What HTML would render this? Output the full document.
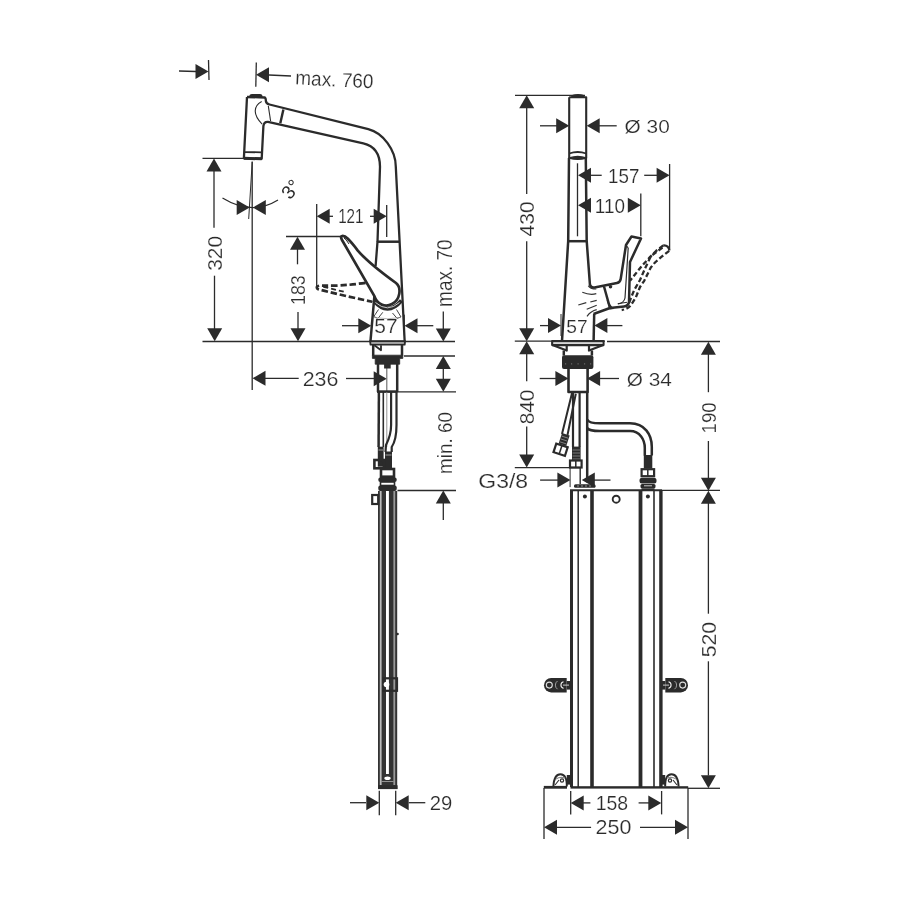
<!DOCTYPE html>
<html><head><meta charset="utf-8"><style>
html,body{margin:0;padding:0;background:#fff;}
svg{display:block;will-change:transform;}
text{font-family:"Liberation Sans",sans-serif;fill:#2b2b2b;}
</style></head><body>
<svg width="900" height="900" viewBox="0 0 900 900">
<rect width="900" height="900" fill="#fff"/>
<line x1="208.5" y1="60" x2="209" y2="80" stroke="#2b2b2b" stroke-width="1.3" />
<line x1="179" y1="71" x2="196" y2="71.5" stroke="#2b2b2b" stroke-width="1.3" />
<polygon points="208.5,71.5 195.5,64.0 195.5,79.0" fill="#2b2b2b"/>
<line x1="256.3" y1="62.5" x2="255.8" y2="86.7" stroke="#2b2b2b" stroke-width="1.3" />
<polygon points="256.0,74.8 269.0,67.3 269.0,82.3" fill="#2b2b2b"/>
<line x1="269" y1="75" x2="291" y2="76" stroke="#2b2b2b" stroke-width="1.3" />
<text x="0" y="0" font-size="20" transform="rotate(3 334.75 79.4) translate(295.35 86.40) scale(0.9494 1.0000)" stroke="#fff" stroke-width="0.2">max. 760</text>
<line x1="202.5" y1="158.3" x2="246" y2="158.3" stroke="#2b2b2b" stroke-width="1.3" />
<line x1="214" y1="170" x2="214" y2="227.7" stroke="#2b2b2b" stroke-width="1.3" />
<polygon points="214.0,158.5 206.5,171.5 221.5,171.5" fill="#2b2b2b"/>
<text x="0" y="0" font-size="20" transform="translate(222.00 270.74) rotate(-90) scale(1.0437 1.0500)" stroke="#fff" stroke-width="0.2">320</text>
<line x1="214.5" y1="275.7" x2="214.5" y2="329" stroke="#2b2b2b" stroke-width="1.3" />
<polygon points="214.7,341.3 207.2,328.3 222.2,328.3" fill="#2b2b2b"/>
<line x1="252.2" y1="161.5" x2="252.2" y2="390" stroke="#2b2b2b" stroke-width="1.3" />
<line x1="252.2" y1="162" x2="248.7" y2="219" stroke="#2b2b2b" stroke-width="1.0" />
<path d="M222.5,198 Q252,216 278,200" stroke="#2b2b2b" stroke-width="1.2" fill="none" stroke-linejoin="round" />
<polygon points="249.7,207.5 236.7,200.0 236.7,215.0" fill="#2b2b2b"/>
<polygon points="252.8,207.5 265.8,200.0 265.8,215.0" fill="#2b2b2b"/>
<text x="0" y="0" font-size="19" text-anchor="middle" transform="translate(290.8 189.3) rotate(-50) translate(0 6.5)">3°</text>
<line x1="286" y1="236.5" x2="341" y2="236.5" stroke="#2b2b2b" stroke-width="1.3" />
<polygon points="297.5,236.7 290.0,249.7 305.0,249.7" fill="#2b2b2b"/>
<line x1="297.5" y1="249" x2="297.5" y2="264.3" stroke="#2b2b2b" stroke-width="1.3" />
<text x="0" y="0" font-size="20" transform="translate(305.00 304.88) rotate(-90) scale(0.8844 1.0214)" stroke="#fff" stroke-width="0.2">183</text>
<line x1="298" y1="312" x2="298" y2="329" stroke="#2b2b2b" stroke-width="1.3" />
<polygon points="298.0,341.3 290.5,328.3 305.5,328.3" fill="#2b2b2b"/>
<line x1="316.7" y1="204" x2="316.7" y2="288" stroke="#2b2b2b" stroke-width="1.3" />
<polygon points="316.7,216.3 329.7,208.8 329.7,223.8" fill="#2b2b2b"/>
<line x1="329" y1="216.3" x2="333" y2="216.3" stroke="#2b2b2b" stroke-width="1.3" />
<text x="0" y="0" font-size="20" transform="translate(338.14 223.10) scale(0.7625 1.0143)" stroke="#fff" stroke-width="0.2">121</text>
<line x1="370" y1="216.3" x2="374" y2="216.3" stroke="#2b2b2b" stroke-width="1.3" />
<polygon points="386.7,216.3 373.7,208.8 373.7,223.8" fill="#2b2b2b"/>
<line x1="386.7" y1="205" x2="386.7" y2="237" stroke="#2b2b2b" stroke-width="1.3" />
<line x1="342" y1="325.7" x2="359" y2="325.7" stroke="#2b2b2b" stroke-width="1.3" />
<polygon points="371.3,325.7 358.3,318.2 358.3,333.2" fill="#2b2b2b"/>
<polygon points="404.5,325.7 417.5,318.2 417.5,333.2" fill="#2b2b2b"/>
<line x1="417" y1="325.7" x2="433.3" y2="325.7" stroke="#2b2b2b" stroke-width="1.3" />
<line x1="404.3" y1="314.7" x2="404.3" y2="335.3" stroke="#2b2b2b" stroke-width="1.0" />
<text x="0" y="0" font-size="20" transform="translate(374.25 332.50) scale(1.0476 0.9643)" stroke="#fff" stroke-width="0.2">57</text>
<text x="0" y="0" font-size="20" transform="translate(451.50 306.95) rotate(-90) scale(0.9500 1.0714)" stroke="#fff" stroke-width="0.2">max. 70</text>
<line x1="443.3" y1="311.5" x2="443.3" y2="329" stroke="#2b2b2b" stroke-width="1.3" />
<polygon points="443.3,341.6 435.8,328.6 450.8,328.6" fill="#2b2b2b"/>
<line x1="202.5" y1="341.5" x2="455" y2="341.5" stroke="#2b2b2b" stroke-width="1.3" />
<line x1="404" y1="356" x2="455" y2="356" stroke="#2b2b2b" stroke-width="1.3" />
<polygon points="443.3,356.0 435.8,369.0 450.8,369.0" fill="#2b2b2b"/>
<line x1="443.3" y1="368" x2="443.3" y2="380" stroke="#2b2b2b" stroke-width="1.3" />
<polygon points="443.3,391.8 435.8,378.8 450.8,378.8" fill="#2b2b2b"/>
<line x1="397.5" y1="391.8" x2="456" y2="391.8" stroke="#2b2b2b" stroke-width="1.3" />
<text x="0" y="0" font-size="20" transform="translate(451.50 473.95) rotate(-90) scale(0.9453 1.0000)" stroke="#fff" stroke-width="0.2">min. 60</text>
<line x1="397.5" y1="490.5" x2="456" y2="490.5" stroke="#2b2b2b" stroke-width="1.3" />
<polygon points="443.3,490.5 435.8,503.5 450.8,503.5" fill="#2b2b2b"/>
<line x1="443.3" y1="503" x2="443.3" y2="520" stroke="#2b2b2b" stroke-width="1.3" />
<line x1="252.5" y1="390" x2="252.5" y2="390" stroke="#2b2b2b" stroke-width="1.3" />
<polygon points="252.5,378.3 265.5,370.8 265.5,385.8" fill="#2b2b2b"/>
<line x1="265" y1="378.3" x2="298.7" y2="378.3" stroke="#2b2b2b" stroke-width="1.3" />
<text x="0" y="0" font-size="20" transform="translate(302.63 385.80) scale(1.0719 1.0071)" stroke="#fff" stroke-width="0.2">236</text>
<line x1="346" y1="378.5" x2="374" y2="378.5" stroke="#2b2b2b" stroke-width="1.3" />
<polygon points="386.7,378.7 373.7,371.2 373.7,386.2" fill="#2b2b2b"/>
<line x1="350" y1="802.7" x2="366" y2="802.7" stroke="#2b2b2b" stroke-width="1.3" />
<polygon points="379.3,802.7 366.3,795.2 366.3,810.2" fill="#2b2b2b"/>
<line x1="379.3" y1="790.7" x2="379.3" y2="815.3" stroke="#2b2b2b" stroke-width="1.3" />
<line x1="395.7" y1="790.7" x2="395.7" y2="815.3" stroke="#2b2b2b" stroke-width="1.3" />
<polygon points="395.7,802.7 408.7,795.2 408.7,810.2" fill="#2b2b2b"/>
<line x1="408.7" y1="802.7" x2="425.3" y2="802.7" stroke="#2b2b2b" stroke-width="1.3" />
<text x="0" y="0" font-size="20" transform="translate(429.69 810.00) scale(1.0143 1.0000)" stroke="#fff" stroke-width="0.2">29</text>
<path d="M249.2,97 Q249.2,94 252,94 L260,94 Q262.6,94 262.6,97 Z" fill="#2b2b2b"/>
<path d="M247,97 L264.8,97.5 Q266,98.5 265.8,100.5 Q265.8,103.6 269.5,104.5 L368.3,129.2 C383,133 395.8,150 395.8,166.7 L404.7,342" stroke="#2b2b2b" stroke-width="2.3" fill="none" stroke-linejoin="round" />
<path d="M247,97 L243.9,158.3 L261.7,158.8 L263.4,126 Q264,121.5 268,121.8 L363.3,143.3 C375,146 380,155 380,166.7 L377.5,241.7 L375.6,266" stroke="#2b2b2b" stroke-width="2.3" fill="none" stroke-linejoin="round" />
<line x1="244.5" y1="152.1" x2="262" y2="152.3" stroke="#2b2b2b" stroke-width="1.8" />
<line x1="243.9" y1="158.3" x2="261.7" y2="158.8" stroke="#2b2b2b" stroke-width="3.0" />
<path d="M261.7,101.4 C253,106 253,115 262.1,124.1" stroke="#2b2b2b" stroke-width="1.1" fill="none" stroke-linejoin="round" />
<line x1="268.3" y1="105.9" x2="270.6" y2="121" stroke="#2b2b2b" stroke-width="1.1" />
<line x1="283.4" y1="109.4" x2="280.3" y2="123.2" stroke="#2b2b2b" stroke-width="2.4" />
<line x1="377.5" y1="241.7" x2="399" y2="241.7" stroke="#2b2b2b" stroke-width="2.5" />
<path d="M374.4,296 L370.4,342" stroke="#2b2b2b" stroke-width="2.5" fill="none" stroke-linejoin="round" />
<path d="M378.5,309.5 L373.8,316.5 L377.5,318.3" stroke="#444" stroke-width="1.0" fill="none" stroke-linejoin="round" />
<path d="M382.8,312.3 L378.3,318" stroke="#444" stroke-width="1.0" fill="none" stroke-linejoin="round" />
<path d="M396.5,309.5 L401,317 L397,318.3" stroke="#444" stroke-width="1.0" fill="none" stroke-linejoin="round" />
<path d="M392.5,313 L397,318.3" stroke="#444" stroke-width="1.0" fill="none" stroke-linejoin="round" />
<path d="M374,317.5 Q388,320 401,317.5" stroke="#999" stroke-width="0.7" fill="none" stroke-linejoin="round" />
<path d="M342.2,236 C345.5,235.5 349,239 357.8,250.6 C365,259 378,270 396,283 C402,288 400,300 392,304 C385,308 377,304 374.4,296.1 L342,240 Q340,236.5 342.2,236 Z" stroke="#2b2b2b" stroke-width="2.7" fill="#fff" stroke-linejoin="round" />
<path d="M344,238 Q346,239 349,244" stroke="#2b2b2b" stroke-width="1.0" fill="none" stroke-linejoin="round" />
<path d="M373.8,300.5 Q387.5,317 401.5,300.5" stroke="#2b2b2b" stroke-width="4.2" fill="none" stroke-linejoin="round" />
<path d="M375.5,302.5 Q387.5,313.2 399.5,302.5" stroke="#ddd" stroke-width="0.9" fill="none" stroke-linejoin="round" />
<path d="M365.6,282.8 Q340,286.5 321,285.5 Q315,286 317.5,289 Q340,295 372.2,301.7" stroke="#2b2b2b" stroke-width="2.7" fill="none" stroke-linejoin="round" stroke-dasharray="6.5,2.8"/>
<path d="M323.3,286.8 L345,292" stroke="#2b2b2b" stroke-width="1.8" fill="none" stroke-linejoin="round" stroke-dasharray="5,3"/>
<path d="M370.2,341.3 L405,341.3 L404.6,344.6 L370.6,344.6 Z" stroke="#2b2b2b" stroke-width="2.0" fill="none" stroke-linejoin="round" />
<line x1="371" y1="343" x2="404" y2="343" stroke="#aaa" stroke-width="0.8" />
<path d="M373.2,344.7 L373.2,355.7 M402,344.7 L402,355.7" stroke="#2b2b2b" stroke-width="2.5" fill="none" stroke-linejoin="round" />
<path d="M374.4,345.2 L381,350.2 L381,345.2" stroke="#2b2b2b" stroke-width="1.8" fill="none" stroke-linejoin="round" />
<path d="M372.4,355.2 L402.8,355.2 L402.8,358.4 L399.7,358.4 L399.7,364.2 L375.2,364.2 L375.2,358.4 L372.4,358.4 Z" stroke="#2b2b2b" stroke-width="0.8" fill="#2b2b2b" stroke-linejoin="round" />
<line x1="378" y1="364" x2="378" y2="392" stroke="#2b2b2b" stroke-width="2.5" />
<line x1="386.8" y1="364" x2="386.8" y2="392" stroke="#666" stroke-width="1.1" />
<line x1="397.2" y1="364" x2="397.2" y2="392" stroke="#2b2b2b" stroke-width="2.5" />
<rect x="384.1" y="364" width="6.6" height="4.5" fill="#2b2b2b" stroke="none" stroke-width="0"/>
<rect x="377" y="390.3" width="20.5" height="2.6" fill="#2b2b2b" stroke="none" stroke-width="0"/>
<line x1="378.9" y1="392" x2="378.6" y2="447" stroke="#2b2b2b" stroke-width="2.5" />
<line x1="383.3" y1="392" x2="383.3" y2="447" stroke="#2b2b2b" stroke-width="1.6" />
<line x1="386.8" y1="392" x2="386.8" y2="447" stroke="#888" stroke-width="0.9" />
<path d="M391.1,392 L391.1,425 Q391.1,435 386,445 L385.5,452" stroke="#2b2b2b" stroke-width="2.2" fill="none" stroke-linejoin="round" />
<path d="M396.5,392 L396.5,425 Q396.5,440 391.7,447 L391.7,452" stroke="#2b2b2b" stroke-width="2.2" fill="none" stroke-linejoin="round" />
<rect x="377.8" y="446.7" width="5.8" height="20" fill="#2b2b2b" stroke="none" stroke-width="0"/>
<line x1="378.5" y1="450" x2="383" y2="450" stroke="#bbb" stroke-width="0.8" />
<rect x="385" y="451.5" width="7" height="17.5" fill="#2b2b2b" stroke="none" stroke-width="0"/>
<line x1="385.5" y1="455" x2="391.5" y2="455" stroke="#bbb" stroke-width="0.8" />
<rect x="374.4" y="460" width="9.5" height="8.3" fill="none" stroke="#2b2b2b" stroke-width="2.6"/>
<rect x="381" y="469" width="13" height="7.7" fill="none" stroke="#2b2b2b" stroke-width="2.6"/>
<rect x="378.3" y="477.5" width="18.4" height="4.5" rx="2" fill="#2b2b2b"/>
<rect x="378.3" y="485.5" width="18.4" height="5.5" rx="2" fill="#2b2b2b"/>
<rect x="380.5" y="482" width="14" height="3.5" fill="none" stroke="#2b2b2b" stroke-width="1.6"/>
<rect x="378" y="491" width="19.2" height="298" fill="#333" stroke="none" stroke-width="0"/>
<rect x="386" y="491" width="2.9" height="283" fill="#fff" stroke="none" stroke-width="0"/>
<rect x="379.8" y="491" width="1.8" height="294" fill="#bbb" stroke="none" stroke-width="0"/>
<rect x="393.4" y="491" width="1.8" height="294" fill="#999" stroke="none" stroke-width="0"/>
<rect x="378" y="785.3" width="19.6" height="3.8" fill="#2b2b2b" stroke="none" stroke-width="0"/>
<ellipse cx="387.5" cy="778.3" rx="3.2" ry="1.8" fill="#fff"/>
<line x1="381.5" y1="781.5" x2="393.5" y2="781.5" stroke="#aaa" stroke-width="0.8" />
<rect x="372.2" y="495" width="6" height="9" fill="none" stroke="#2b2b2b" stroke-width="2.2"/>
<rect x="383.5" y="678.3" width="13.5" height="12.5" fill="none" stroke="#2b2b2b" stroke-width="2.2"/>
<circle cx="386.5" cy="684.5" r="2.8" fill="#fff"/>
<circle cx="397.5" cy="634" r="1.3" fill="#2b2b2b"/>
<line x1="515" y1="95.3" x2="585" y2="95.3" stroke="#2b2b2b" stroke-width="1.3" />
<line x1="526.7" y1="107" x2="526.7" y2="194" stroke="#2b2b2b" stroke-width="1.3" />
<polygon points="526.7,95.3 519.2,108.3 534.2,108.3" fill="#2b2b2b"/>
<text x="0" y="0" font-size="20" transform="translate(534.20 236.40) rotate(-90) scale(1.0485 1.0143)" stroke="#fff" stroke-width="0.2">430</text>
<line x1="526.7" y1="241.3" x2="526.7" y2="329" stroke="#2b2b2b" stroke-width="1.3" />
<polygon points="526.7,341.2 519.2,328.2 534.2,328.2" fill="#2b2b2b"/>
<line x1="540" y1="125.8" x2="557" y2="125.8" stroke="#2b2b2b" stroke-width="1.3" />
<polygon points="569.2,125.8 556.2,118.3 556.2,133.3" fill="#2b2b2b"/>
<polygon points="586.7,125.8 599.7,118.3 599.7,133.3" fill="#2b2b2b"/>
<line x1="599" y1="125.8" x2="616.7" y2="125.8" stroke="#2b2b2b" stroke-width="1.3" />
<text x="0" y="0" font-size="20" transform="translate(624.56 132.90) scale(1.0429 0.9000)" stroke="#fff" stroke-width="0.2">Ø 30</text>
<line x1="577.5" y1="163.3" x2="577.5" y2="236.3" stroke="#2b2b2b" stroke-width="1.3" />
<polygon points="578.0,175.3 591.0,167.8 591.0,182.8" fill="#2b2b2b"/>
<line x1="590" y1="175.3" x2="601.7" y2="175.3" stroke="#2b2b2b" stroke-width="1.3" />
<text x="0" y="0" font-size="20" transform="translate(608.06 182.50) scale(0.9375 1.0000)" stroke="#fff" stroke-width="0.2">157</text>
<line x1="644.2" y1="175.3" x2="657" y2="175.3" stroke="#2b2b2b" stroke-width="1.3" />
<polygon points="669.6,175.3 656.6,167.8 656.6,182.8" fill="#2b2b2b"/>
<line x1="669.6" y1="164" x2="669.6" y2="249.5" stroke="#2b2b2b" stroke-width="1.3" />
<polygon points="578.0,205.3 591.0,197.8 591.0,212.8" fill="#2b2b2b"/>
<text x="0" y="0" font-size="20" transform="translate(594.85 212.70) scale(0.9467 1.0500)" stroke="#fff" stroke-width="0.2">110</text>
<polygon points="640.8,205.3 627.8,197.8 627.8,212.8" fill="#2b2b2b"/>
<line x1="640.8" y1="193.5" x2="640.8" y2="236.3" stroke="#2b2b2b" stroke-width="1.3" />
<line x1="540" y1="325.6" x2="549.5" y2="325.6" stroke="#2b2b2b" stroke-width="1.3" />
<polygon points="561.0,325.6 548.0,318.1 548.0,333.1" fill="#2b2b2b"/>
<line x1="561" y1="314" x2="561" y2="336" stroke="#2b2b2b" stroke-width="1.0" />
<polygon points="594.4,325.6 607.4,318.1 607.4,333.1" fill="#2b2b2b"/>
<line x1="606.5" y1="325.6" x2="622.4" y2="325.6" stroke="#2b2b2b" stroke-width="1.3" />
<text x="0" y="0" font-size="20" transform="translate(566.24 332.60) scale(0.9619 0.9429)" stroke="#fff" stroke-width="0.2">57</text>
<line x1="514.8" y1="341.2" x2="605" y2="341.2" stroke="#2b2b2b" stroke-width="1.3" />
<line x1="607" y1="341.5" x2="720" y2="341.5" stroke="#2b2b2b" stroke-width="1.3" />
<polygon points="526.7,341.2 519.2,354.2 534.2,354.2" fill="#2b2b2b"/>
<line x1="526.7" y1="354" x2="526.7" y2="381.3" stroke="#2b2b2b" stroke-width="1.3" />
<text x="0" y="0" font-size="20" transform="translate(534.20 424.34) rotate(-90) scale(1.0438 1.0000)" stroke="#fff" stroke-width="0.2">840</text>
<line x1="526.7" y1="426.4" x2="526.7" y2="456" stroke="#2b2b2b" stroke-width="1.3" />
<polygon points="526.7,467.6 519.2,454.6 534.2,454.6" fill="#2b2b2b"/>
<line x1="514.8" y1="467.6" x2="580" y2="467.6" stroke="#2b2b2b" stroke-width="1.3" />
<line x1="539.7" y1="378.5" x2="556" y2="378.5" stroke="#2b2b2b" stroke-width="1.3" />
<polygon points="568.4,378.5 555.4,371.0 555.4,386.0" fill="#2b2b2b"/>
<polygon points="587.1,378.5 600.1,371.0 600.1,386.0" fill="#2b2b2b"/>
<line x1="600" y1="378.5" x2="619" y2="378.5" stroke="#2b2b2b" stroke-width="1.3" />
<text x="0" y="0" font-size="20" transform="translate(626.76 385.79) scale(1.0429 0.9062)" stroke="#fff" stroke-width="0.2">Ø 34</text>
<text x="0" y="0" font-size="20" transform="translate(478.25 488.00) scale(1.1500 1.0333)" stroke="#fff" stroke-width="0.2">G3/8</text>
<line x1="540.1" y1="480.1" x2="558" y2="480.1" stroke="#2b2b2b" stroke-width="1.3" />
<polygon points="570.4,480.1 557.4,472.6 557.4,487.6" fill="#2b2b2b"/>
<line x1="570.1" y1="467.7" x2="570.1" y2="487.1" stroke="#2b2b2b" stroke-width="1.0" />
<polygon points="581.8,480.1 594.8,472.6 594.8,487.6" fill="#2b2b2b"/>
<line x1="594" y1="480.1" x2="610.5" y2="480.1" stroke="#2b2b2b" stroke-width="1.3" />
<line x1="570" y1="490.2" x2="662" y2="490.2" stroke="#2b2b2b" stroke-width="2.0" />
<line x1="662" y1="490.4" x2="720" y2="490.4" stroke="#2b2b2b" stroke-width="1.3" />
<polygon points="708.4,341.8 700.9,354.8 715.9,354.8" fill="#2b2b2b"/>
<line x1="708.4" y1="354" x2="708.4" y2="392.2" stroke="#2b2b2b" stroke-width="1.3" />
<text x="0" y="0" font-size="20" transform="translate(715.80 433.43) rotate(-90) scale(0.9281 1.0000)" stroke="#fff" stroke-width="0.2">190</text>
<line x1="708.4" y1="441" x2="708.4" y2="478.5" stroke="#2b2b2b" stroke-width="1.3" />
<polygon points="708.4,490.7 700.9,477.7 715.9,477.7" fill="#2b2b2b"/>
<polygon points="708.4,490.7 700.9,503.7 715.9,503.7" fill="#2b2b2b"/>
<line x1="708.4" y1="503" x2="708.4" y2="613.7" stroke="#2b2b2b" stroke-width="1.3" />
<text x="0" y="0" font-size="20" transform="translate(716.00 657.36) rotate(-90) scale(1.0625 1.0214)" stroke="#fff" stroke-width="0.2">520</text>
<line x1="708.4" y1="661.3" x2="708.4" y2="775.5" stroke="#2b2b2b" stroke-width="1.3" />
<polygon points="708.4,788.2 700.9,775.2 715.9,775.2" fill="#2b2b2b"/>
<line x1="688" y1="788.3" x2="720" y2="788.3" stroke="#2b2b2b" stroke-width="1.3" />
<line x1="570.7" y1="791" x2="570.7" y2="814.4" stroke="#2b2b2b" stroke-width="1.3" />
<line x1="661.6" y1="791" x2="661.6" y2="814.4" stroke="#2b2b2b" stroke-width="1.3" />
<polygon points="570.7,802.9 583.7,795.4 583.7,810.4" fill="#2b2b2b"/>
<line x1="583" y1="802.9" x2="590.4" y2="802.9" stroke="#2b2b2b" stroke-width="1.3" />
<text x="0" y="0" font-size="20" transform="translate(595.73 810.00) scale(0.9719 1.0286)" stroke="#fff" stroke-width="0.2">158</text>
<line x1="638.6" y1="802.9" x2="649" y2="802.9" stroke="#2b2b2b" stroke-width="1.3" />
<polygon points="661.3,802.9 648.3,795.4 648.3,810.4" fill="#2b2b2b"/>
<line x1="544" y1="788" x2="544" y2="838.9" stroke="#2b2b2b" stroke-width="1.3" />
<line x1="688" y1="788" x2="688" y2="838.9" stroke="#2b2b2b" stroke-width="1.3" />
<polygon points="544.0,827.3 557.0,819.8 557.0,834.8" fill="#2b2b2b"/>
<line x1="557" y1="827.3" x2="591.1" y2="827.3" stroke="#2b2b2b" stroke-width="1.3" />
<text x="0" y="0" font-size="20" transform="translate(595.62 834.40) scale(1.0750 1.0286)" stroke="#fff" stroke-width="0.2">250</text>
<line x1="640" y1="827.3" x2="675" y2="827.3" stroke="#2b2b2b" stroke-width="1.3" />
<polygon points="688.0,827.3 675.0,819.8 675.0,834.8" fill="#2b2b2b"/>
<path d="M571,97.3 Q571,94 578,94 Q584.8,94 584.8,97.3 Z" fill="#2b2b2b"/>
<path d="M569.2,97.3 L586.2,97.3 L586.2,158.3 M569.2,97.3 L569.2,158.3" stroke="#2b2b2b" stroke-width="2.1" fill="none" stroke-linejoin="round" />
<path d="M569.2,153.5 Q577.7,150.5 586.2,153.5" stroke="#2b2b2b" stroke-width="1.8" fill="none" stroke-linejoin="round" />
<path d="M569.2,158 Q577.7,155 586.2,158 Q577.7,160.5 569.2,158 Z" stroke="#2b2b2b" stroke-width="1.6" fill="#2b2b2b" stroke-linejoin="round" />
<path d="M569,158 L568.2,241 L562,341" stroke="#2b2b2b" stroke-width="2.5" fill="none" stroke-linejoin="round" />
<path d="M585.8,158 L586.7,241 L590,285.5" stroke="#2b2b2b" stroke-width="2.5" fill="none" stroke-linejoin="round" />
<path d="M594.2,314 L593.6,341" stroke="#2b2b2b" stroke-width="2.5" fill="none" stroke-linejoin="round" />
<line x1="568" y1="241.2" x2="587" y2="241.2" stroke="#2b2b2b" stroke-width="2.5" />
<path d="M590,285 Q591,288 594.5,287.5 L617,283 Q620.2,282.3 620.7,279 L626,245 L631.5,236.5 L641,238.5 L630,262 L629,302 Q628.5,306 624,306.5 L610,308 L593.5,314" stroke="#2b2b2b" stroke-width="2.5" fill="none" stroke-linejoin="round" />
<path d="M604,286.5 L610,308" stroke="#2b2b2b" stroke-width="2.5" fill="none" stroke-linejoin="round" />
<path d="M628.2,248 L625,298 Q624,303 618,304" stroke="#2b2b2b" stroke-width="1.2" fill="none" stroke-linejoin="round" />
<path d="M626,245 L628.2,248" stroke="#2b2b2b" stroke-width="1.2" fill="none" stroke-linejoin="round" />
<circle cx="610.5" cy="286.8" r="1.8" fill="#2b2b2b"/>
<path d="M582.3,292.3 Q590,295.5 596.3,293.7" stroke="#333" stroke-width="1.2" fill="none" stroke-linejoin="round" />
<path d="M578.3,305 L586.3,302.7" stroke="#333" stroke-width="1.2" fill="none" stroke-linejoin="round" />
<path d="M590.3,302 L596.7,300.3" stroke="#333" stroke-width="1.2" fill="none" stroke-linejoin="round" />
<path d="M586.7,309.3 L596.7,305.3" stroke="#333" stroke-width="1.2" fill="none" stroke-linejoin="round" />
<path d="M587,316.3 Q591,311 596.7,309.7" stroke="#333" stroke-width="1.2" fill="none" stroke-linejoin="round" />
<path d="M588.3,285.7 Q590,289 596.3,289" stroke="#333" stroke-width="1.2" fill="none" stroke-linejoin="round" />
<polygon points="606.5,300 609.7,309.5 614,309" fill="#2b2b2b"/>
<path d="M617.7,303.7 L627,302.3" stroke="#2b2b2b" stroke-width="1.0" fill="none" stroke-linejoin="round" />
<path d="M663.3,245.4 L656,251 Q648,259 641,267 L630,280.8" stroke="#2b2b2b" stroke-width="2.3" fill="none" stroke-linejoin="round" stroke-dasharray="5,2.6"/>
<path d="M662.5,247.5 L651,256 L645.5,267.5 L640,280 L634.2,290 L630.8,298.3 L628.3,305" stroke="#2b2b2b" stroke-width="2.3" fill="none" stroke-linejoin="round" stroke-dasharray="5,2.6"/>
<path d="M669.2,250.8 L661.7,256.7 L655,262.5 L650.8,267.5 L644.2,280.8 L640,287 L635.8,297.5 L631,305 Q628,309 621.7,310" stroke="#2b2b2b" stroke-width="2.3" fill="none" stroke-linejoin="round" stroke-dasharray="5,2.6"/>
<path d="M663.3,245.4 Q668.5,245 669.5,250.5" stroke="#2b2b2b" stroke-width="2.2" fill="none" stroke-linejoin="round" />
<path d="M552.2,341.1 L603.5,341.1 L603.5,345.1 L552.2,345.1 Z" stroke="#2b2b2b" stroke-width="2.2" fill="none" stroke-linejoin="round" />
<line x1="553" y1="343.1" x2="603" y2="343.1" stroke="#aaa" stroke-width="0.8" />
<path d="M552.5,345 L566.7,350.5 L566.7,345 M603.2,345 L589,350.5 L589,345" stroke="#2b2b2b" stroke-width="2.2" fill="none" stroke-linejoin="round" />
<path d="M563.8,350.5 L563.8,355.5 M591.9,350.5 L591.9,355.5" stroke="#2b2b2b" stroke-width="2.5" fill="none" stroke-linejoin="round" />
<rect x="562" y="355.2" width="31.4" height="13.7" rx="2" fill="#2b2b2b"/>
<rect x="565" y="363.4" width="1.2" height="1.0" fill="#777"/>
<rect x="571" y="363.4" width="1.2" height="1.0" fill="#777"/>
<rect x="577.5" y="363.4" width="1.2" height="1.0" fill="#777"/>
<rect x="584" y="363.4" width="1.2" height="1.0" fill="#777"/>
<rect x="590" y="363.4" width="1.2" height="1.0" fill="#777"/>
<path d="M568.5,369 L568.5,392 L587.6,392 L587.6,369" stroke="#2b2b2b" stroke-width="2.6" fill="none" stroke-linejoin="round" />
<rect x="568.5" y="365" width="19.1" height="4" fill="#2b2b2b" stroke="none" stroke-width="0"/>
<path d="M572.1,392.8 L562,434 M575.8,393.7 L567.5,435" stroke="#2b2b2b" stroke-width="2.0" fill="none" stroke-linejoin="round" />
<g transform="rotate(18 564 440)"><rect x="560" y="434" width="8" height="11" fill="#2b2b2b"/><line x1="560.5" y1="437" x2="567.5" y2="437" stroke="#999" stroke-width="0.7"/><line x1="560.5" y1="440" x2="567.5" y2="440" stroke="#999" stroke-width="0.7"/><line x1="560.5" y1="443" x2="567.5" y2="443" stroke="#999" stroke-width="0.7"/></g>
<g transform="rotate(18 560.6 449.7)"><rect x="554.6" y="445.2" width="12" height="9" fill="none" stroke="#2b2b2b" stroke-width="2.2"/><line x1="560.6" y1="445.5" x2="560.6" y2="454" stroke="#2b2b2b" stroke-width="1.5"/></g>
<line x1="573" y1="392" x2="573" y2="447" stroke="#2b2b2b" stroke-width="2.2" />
<line x1="579.6" y1="392" x2="579.6" y2="447" stroke="#2b2b2b" stroke-width="2.2" />
<rect x="572" y="446.6" width="8.6" height="14" fill="#2b2b2b" stroke="none" stroke-width="0"/>
<line x1="572.5" y1="450" x2="580" y2="450" stroke="#999" stroke-width="0.7" />
<line x1="572.5" y1="453" x2="580" y2="453" stroke="#999" stroke-width="0.7" />
<line x1="572.5" y1="456" x2="580" y2="456" stroke="#999" stroke-width="0.7" />
<line x1="572.5" y1="459" x2="580" y2="459" stroke="#999" stroke-width="0.7" />
<rect x="570" y="460.5" width="11.6" height="7" fill="none" stroke="#2b2b2b" stroke-width="2.2"/>
<line x1="575.8" y1="461" x2="575.8" y2="467" stroke="#2b2b2b" stroke-width="1.5" />
<line x1="580.2" y1="467.5" x2="580.2" y2="484" stroke="#2b2b2b" stroke-width="1.4" />
<line x1="587.2" y1="392" x2="587.2" y2="482.4" stroke="#2b2b2b" stroke-width="2.5" />
<path d="M587.2,419.4 Q589,423.3 600,423.3 L630,423.3 C645,423.3 651.8,435 651.8,446.7 L651.8,455.5" stroke="#2b2b2b" stroke-width="2.5" fill="none" stroke-linejoin="round" />
<path d="M587.2,428 Q589,431.1 600,431.1 L630,431.1 C640,431.1 644.8,440 644.8,448 L644.8,455.5" stroke="#2b2b2b" stroke-width="2.5" fill="none" stroke-linejoin="round" />
<rect x="643.8" y="455" width="8.5" height="13.5" fill="#2b2b2b" stroke="none" stroke-width="0"/>
<rect x="641.6" y="469.2" width="12.5" height="7" fill="none" stroke="#2b2b2b" stroke-width="2.2"/>
<line x1="647.8" y1="469.5" x2="647.8" y2="476" stroke="#2b2b2b" stroke-width="1.5" />
<rect x="639.5" y="477.8" width="17" height="5.6" rx="2.5" fill="#2b2b2b"/>
<rect x="640.5" y="484" width="15" height="4.3" rx="1.5" fill="#2b2b2b"/>
<line x1="644" y1="485.8" x2="652" y2="485.8" stroke="#ccc" stroke-width="1.0" />
<rect x="641.5" y="488.3" width="13" height="1.8" fill="#2b2b2b" stroke="none" stroke-width="0"/>
<rect x="574" y="484.2" width="21.6" height="3.6" rx="1.6" fill="#2b2b2b"/>
<line x1="577" y1="486" x2="593" y2="486" stroke="#aaa" stroke-width="0.8" stroke-dasharray="2,2"/>
<line x1="571.5" y1="490" x2="571.5" y2="787" stroke="#2b2b2b" stroke-width="3.0" />
<line x1="578.2" y1="490" x2="578.2" y2="787" stroke="#2b2b2b" stroke-width="1.5" />
<line x1="592" y1="490" x2="592" y2="787" stroke="#2b2b2b" stroke-width="3.6" />
<line x1="640.5" y1="490" x2="640.5" y2="787" stroke="#2b2b2b" stroke-width="3.8" />
<line x1="654" y1="490" x2="654" y2="787" stroke="#2b2b2b" stroke-width="1.6" />
<line x1="660.9" y1="490" x2="660.9" y2="787" stroke="#2b2b2b" stroke-width="3.4" />
<circle cx="584.9" cy="496.4" r="2" fill="#2b2b2b"/>
<circle cx="616.2" cy="499.2" r="3.5" fill="none" stroke="#2b2b2b" stroke-width="1.9"/>
<circle cx="647.9" cy="496.4" r="2" fill="#2b2b2b"/>
<path d="M566.7,678 L551.2,678 A7.2,7.2 0 0 0 551.2,692.4 L566.7,692.4 Z" fill="#2b2b2b"/>
<rect x="566.7" y="681" width="3.8" height="8.6" fill="#2b2b2b" stroke="none" stroke-width="0"/>
<circle cx="549.3" cy="685.1" r="3" fill="none" stroke="#ddd" stroke-width="1.1"/>
<path d="M563.5,681.8 A3.4,3.4 0 0 0 563.5,688.4" fill="none" stroke="#eee" stroke-width="1.1"/>
<path d="M557.5,681 A5,5 0 0 0 557.5,689.2" fill="none" stroke="#bbb" stroke-width="0.8"/>
<line x1="563.0" y1="685.1" x2="569.0" y2="685.1" stroke="#ccc" stroke-width="1.0" />
<path d="M553.4,786.5 Q554.0,774.3 560.5,774.3 Q567.0,774.3 566.8,786.5" fill="none" stroke="#2b2b2b" stroke-width="2"/>
<path d="M556.0,779 Q560.0,776.5 565.0,778" fill="none" stroke="#888" stroke-width="1.2"/>
<circle cx="562.0" cy="780.5" r="1.6" fill="none" stroke="#2b2b2b" stroke-width="1.2"/>
<line x1="555.0" y1="785" x2="559.0" y2="780" stroke="#2b2b2b" stroke-width="1.1" />
<rect x="566.8" y="775" width="3.4" height="9.6" fill="#2b2b2b" stroke="none" stroke-width="0"/>
<path d="M665.3,678 L680.8,678 A7.2,7.2 0 0 1 680.8,692.4 L665.3,692.4 Z" fill="#2b2b2b"/>
<rect x="661.5" y="681" width="3.8" height="8.6" fill="#2b2b2b" stroke="none" stroke-width="0"/>
<circle cx="682.7" cy="685.1" r="3" fill="none" stroke="#ddd" stroke-width="1.1"/>
<path d="M668.5,681.8 A3.4,3.4 0 0 1 668.5,688.4" fill="none" stroke="#eee" stroke-width="1.1"/>
<path d="M674.5,681 A5,5 0 0 1 674.5,689.2" fill="none" stroke="#bbb" stroke-width="0.8"/>
<line x1="669.0" y1="685.1" x2="663.0" y2="685.1" stroke="#ccc" stroke-width="1.0" />
<path d="M678.6,786.5 Q678.0,774.3 671.5,774.3 Q665.0,774.3 665.2,786.5" fill="none" stroke="#2b2b2b" stroke-width="2"/>
<path d="M676.0,779 Q672.0,776.5 667.0,778" fill="none" stroke="#888" stroke-width="1.2"/>
<circle cx="670.0" cy="780.5" r="1.6" fill="none" stroke="#2b2b2b" stroke-width="1.2"/>
<line x1="677.0" y1="785" x2="673.0" y2="780" stroke="#2b2b2b" stroke-width="1.1" />
<rect x="661.8" y="775" width="3.4" height="9.6" fill="#2b2b2b" stroke="none" stroke-width="0"/>
<rect x="543.8" y="785.9" width="23.2" height="2.8" fill="#2b2b2b" stroke="none" stroke-width="0"/>
<rect x="570.5" y="786.2" width="117.7" height="2.4" fill="#2b2b2b" stroke="none" stroke-width="0"/>
</svg></body></html>
